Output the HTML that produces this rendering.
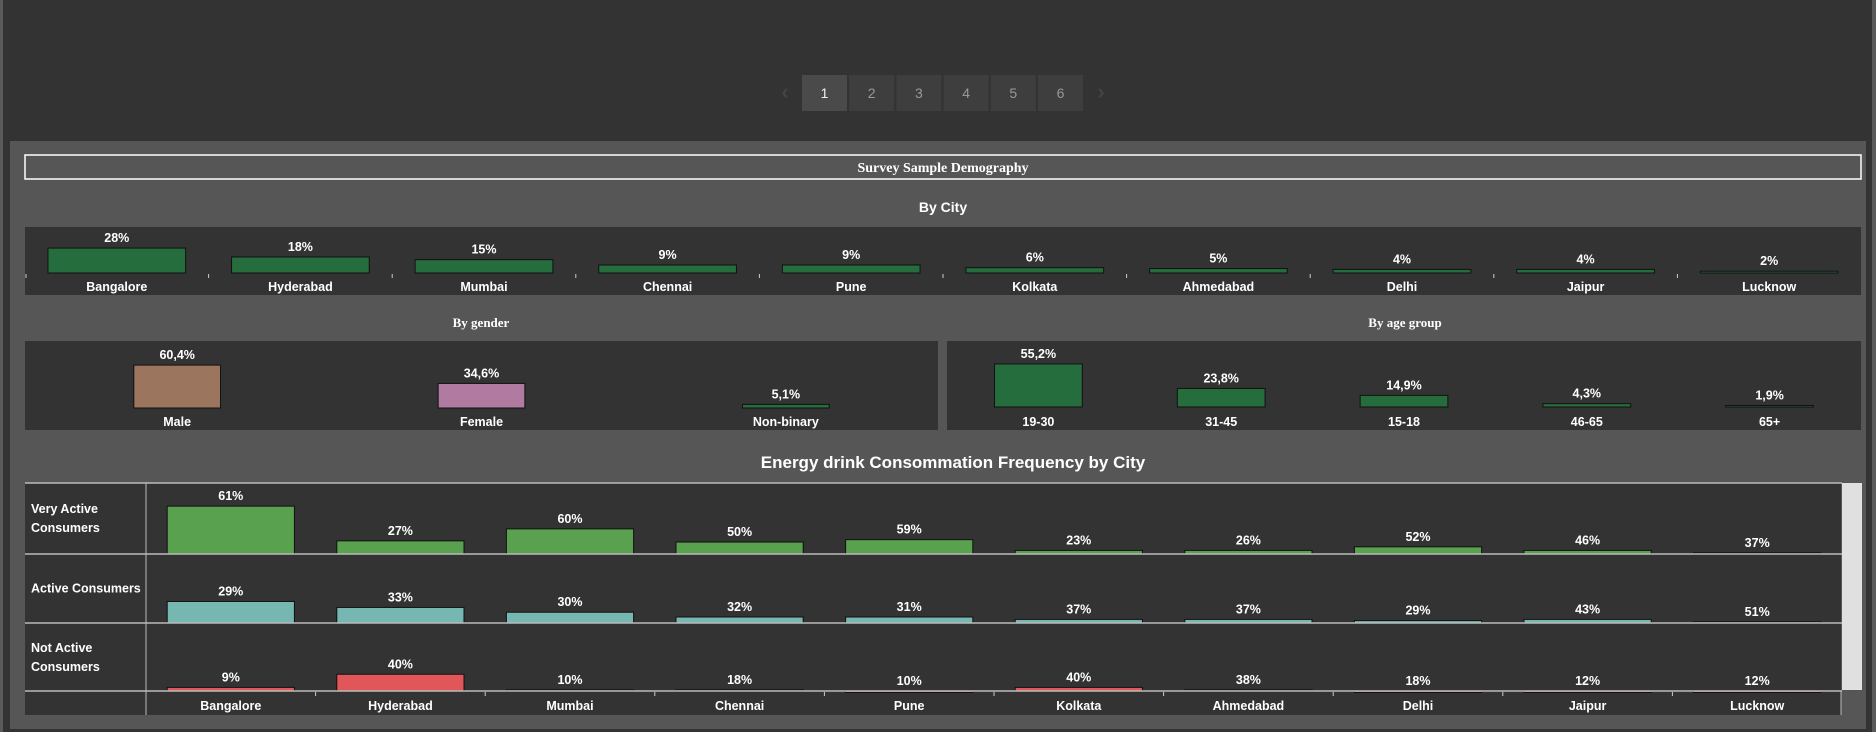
<!DOCTYPE html>
<html><head><meta charset="utf-8">
<style>
html,body{margin:0;padding:0;background:#333;}
svg{display:block;font-family:"Liberation Sans",sans-serif;}
</style></head>
<body>
<svg id="chart" width="1876" height="732" viewBox="0 0 1876 732">
<rect x="0" y="0" width="1876" height="732" fill="#333333"/>
<rect x="0" y="0" width="3" height="732" fill="#5a5a5a"/>
<rect x="1872" y="0" width="4" height="732" fill="#5a5a5a"/>
<rect x="10" y="141" width="1856" height="588" fill="#565656"/>
<g id="pager"></g>
<rect x="25" y="155" width="1836" height="24" fill="none" stroke="#fff" stroke-width="1.5"/>
<text x="943" y="172" text-anchor="middle" fill="#fff" font-family="Liberation Serif,serif" font-weight="bold" font-size="14">Survey Sample Demography</text>
<text x="943" y="212" text-anchor="middle" fill="#fff" font-weight="bold" font-size="14">By City</text>
<rect x="25" y="227" width="1836" height="68" fill="#333"/>
<text x="481" y="327" text-anchor="middle" fill="#fff" font-family="Liberation Serif,serif" font-weight="bold" font-size="13">By gender</text>
<text x="1405" y="327" text-anchor="middle" fill="#fff" font-family="Liberation Serif,serif" font-weight="bold" font-size="13">By age group</text>
<rect x="25" y="341" width="913" height="89" fill="#333"/>
<rect x="947" y="341" width="914" height="89" fill="#333"/>
<text x="953" y="468" text-anchor="middle" fill="#fff" font-weight="bold" font-size="17">Energy drink Consommation Frequency by City</text>
<rect x="25" y="483" width="1816" height="232" fill="#333"/>
<rect x="1842" y="483" width="20" height="207" fill="#e0e0e0"/>
<g id="marks"></g>
</svg>
<script>
const cities = ["Bangalore","Hyderabad","Mumbai","Chennai","Pune","Kolkata","Ahmedabad","Delhi","Jaipur","Lucknow"];
const cityShare = [28,18,15,9,9,6,5,4,4,2];
const genders = ["Male","Female","Non-binary"];
const genderShare = [60.4,34.6,5.1];
const genderColors = ["#9c755f","#b07aa1","#256d3c"];
const ages = ["19-30","31-45","15-18","46-65","65+"];
const ageShare = [55.2,23.8,14.9,4.3,1.9];
const segments = ["Very Active\nConsumers","Active Consumers","Not Active\nConsumers"];
const segColors = ["#59a14f","#76b7b2","#e15759"];
const veryActivePct = [61,27,60,50,59,23,26,52,46,37];
const activePct = [29,33,30,32,31,37,37,29,43,51];
const notActivePct = [9,40,10,18,10,40,38,18,12,12];
const veryActiveCount = [40,11,21,10,12,3,3,6,3,1];
const activeCount = [18,13,9,5,5,3,3,2,3,1];
const notActiveCount = [3,14,1,1,0,3,1,0,0,0];
const pages = ["1","2","3","4","5","6"];

const NS="http://www.w3.org/2000/svg";
const root=document.getElementById('marks');
function el(tag,attrs,parent){const e=document.createElementNS(NS,tag);for(const k in attrs)e.setAttribute(k,attrs[k]);(parent||root).appendChild(e);return e;}
function txt(x,y,s,size,anchor,parent){const t=el('text',{x:x,y:y,'text-anchor':anchor||'middle',fill:'#fff','font-weight':'bold','font-size':size||12},parent);t.textContent=s;return t;}

// pager
const pg=document.getElementById('pager');
let a=txt(785,99,'‹',22,'middle',pg);a.setAttribute('fill','#444');


pages.forEach((p,i)=>{
  const x=802+i*47.2;
  const r=el('rect',{x:x,y:75,width:45,height:36,fill:i===0?'#4a4a4a':'#3e3e3e'},pg);
  
  
  const t=el('text',{x:x+22.5,y:98,'text-anchor':'middle',fill:i===0?'#eee':'#999','font-size':14},pg);t.textContent=p;
  
  
});
a=txt(1101,99,'›',22,'middle',pg);a.setAttribute('fill','#444');



function barRow(cats,vals,labels,x0,w,base,scale,colors,labelY,fmt,prefix,ticks,frac){
  const cw=w/cats.length;
  cats.forEach((c,i)=>{
    const cx=x0+cw*i+cw/2, bw=cw*frac, h=vals[i]*scale;
    const r=el('rect',{x:cx-bw/2,y:base-h,width:bw,height:Math.max(h,1.5),fill:Array.isArray(colors)?colors[i]:colors,stroke:'#111','stroke-width':1});
    
    
    const v=txt(cx,base-h-6,fmt(labels[i]),12.5);
    
    
    if(labelY){const l=txt(cx,labelY,c,12.5);
      
      }
    if(ticks&&i>0)el('line',{x1:x0+cw*i,x2:x0+cw*i,y1:base+1,y2:base+5,stroke:'#ccc'});
  });
}
// city
barRow(cities,cityShare,cityShare,25,1836,273,0.89,'#256d3c',291,v=>v+'%','city',true,0.75);
el('line',{x1:26,x2:26,y1:274,y2:278,stroke:'#ccc'});
// gender / age
barRow(genders,genderShare,genderShare,25,913,408,0.71,genderColors,426,v=>v.toFixed(1).replace('.',',')+'%','gender',false,0.285);
barRow(ages,ageShare,ageShare,947,914,407,0.78,'#256d3c',426,v=>v.toFixed(1).replace('.',',')+'%','age',false,0.48);

// frequency
const rowTops=[483,554,624], rowBases=[554,623,691];
const pcts=[veryActivePct,activePct,notActivePct], counts=[veryActiveCount,activeCount,notActiveCount];
const names=['very-active','active','not-active'];
el('line',{x1:25,x2:1842,y1:483,y2:483,stroke:'#bbb','stroke-width':1.5});
el('line',{x1:146,x2:146,y1:483,y2:715,stroke:'#bbb'});
segments.forEach((s,k)=>{
  const lines=s.split('\n');
  const cy=(rowTops[k]+rowBases[k])/2;
  lines.forEach((ln,j)=>{const t=txt(31,cy+4+(j-(lines.length-1)/2)*19,ln,12.5,'start');
    
    });
  barRow(cities,counts[k],pcts[k],146,1696,rowBases[k],1.196,segColors[k],null,v=>v+'%',names[k],false,0.75);
  el('line',{x1:25,x2:1842,y1:rowBases[k],y2:rowBases[k],stroke:'#bbb','stroke-width':1.5});
});
const cw=1696/cities.length;
cities.forEach((c,i)=>{
  const t=txt(146+cw*i+cw/2,710,c,12.5);
  
  
  if(i>0)el('line',{x1:146+cw*i,x2:146+cw*i,y1:692,y2:696,stroke:'#ccc'});
});
el('line',{x1:1841,x2:1841,y1:691,y2:715,stroke:'#bbb'});
</script>
</body></html>
